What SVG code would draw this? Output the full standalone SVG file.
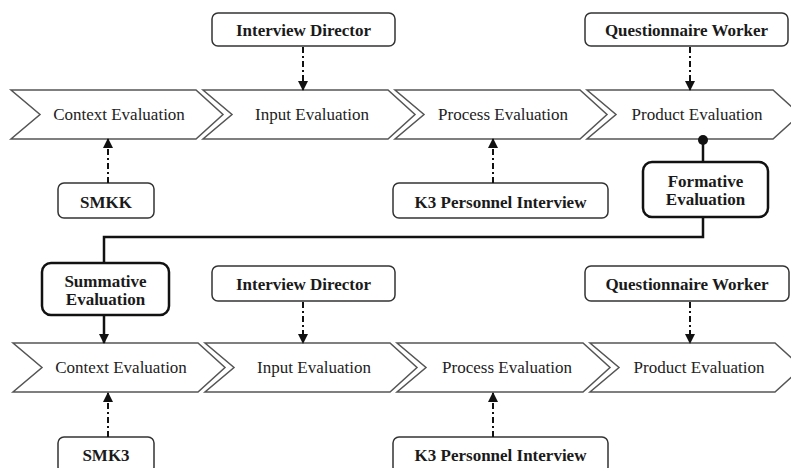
<svg xmlns="http://www.w3.org/2000/svg" width="791" height="468" viewBox="0 0 791 468">
<defs>
<style>
.chev{fill:#fff;stroke:#555;stroke-width:1.5;stroke-linejoin:miter}
.box{fill:#fff;stroke:#333;stroke-width:1.5}
.bbox{fill:#fff;stroke:#111;stroke-width:2.5}
.ct{font-family:"Liberation Serif",serif;font-size:17px;fill:#222;text-anchor:middle}
.bt{font-family:"Liberation Serif",serif;font-size:17px;font-weight:bold;fill:#1a1a1a;text-anchor:middle}
.dash{stroke:#111;stroke-width:2;fill:none;stroke-dasharray:6 3 2 3}
.solid{stroke:#111;stroke-width:2.5;fill:none}
</style>
<marker id="ah" markerWidth="10" markerHeight="10" refX="9" refY="5" orient="auto" markerUnits="userSpaceOnUse">
<path d="M0,0 L10,5 L0,10 Z" fill="#111"/>
</marker>
</defs>
<rect width="791" height="468" fill="#fff"/>

<g id="row1-context"><polygon class="chev" points="11,90 196,90 223,114.5 196,139 11,139 40,114.5"/><text class="ct" x="119" y="120">Context Evaluation</text></g>
<g id="row1-input"><polygon class="chev" points="203,90 388,90 415,114.5 388,139 203,139 232,114.5"/><text class="ct" x="312" y="120">Input Evaluation</text></g>
<g id="row1-process"><polygon class="chev" points="395,90 580,90 607,114.5 580,139 395,139 424,114.5"/><text class="ct" x="503" y="120">Process Evaluation</text></g>
<g id="row1-product"><polygon class="chev" points="587,90 773,90 800,114.5 773,139 587,139 616,114.5"/><text class="ct" x="697" y="120">Product Evaluation</text></g>

<g id="row1-director"><rect class="box" x="212" y="13" width="183" height="33" rx="6"/><text class="bt" x="303.5" y="36">Interview Director</text></g>
<g id="row1-questionnaire"><rect class="box" x="585" y="13" width="203" height="33" rx="6"/><text class="bt" x="686.5" y="36">Questionnaire Worker</text></g>
<g id="row1-smkk"><rect class="box" x="58" y="183" width="96" height="35" rx="6"/><text class="bt" x="106" y="207.5">SMKK</text></g>
<g id="row1-k3"><rect class="box" x="393" y="183" width="215" height="35" rx="6"/><text class="bt" x="500.5" y="207.5">K3 Personnel Interview</text></g>
<g id="formative"><rect class="bbox" x="643" y="162" width="125" height="55" rx="9"/><text class="bt" x="705.5" y="187">Formative</text><text class="bt" x="705.5" y="205">Evaluation</text></g>

<g id="summative"><rect class="bbox" x="42" y="263" width="127" height="52" rx="9"/><text class="bt" x="105.5" y="287">Summative</text><text class="bt" x="105.5" y="305">Evaluation</text></g>

<g id="row2-context"><polygon class="chev" points="13,343 198,343 225,367.5 198,392 13,392 42,367.5"/><text class="ct" x="121" y="373">Context Evaluation</text></g>
<g id="row2-input"><polygon class="chev" points="205,343 390,343 417,367.5 390,392 205,392 234,367.5"/><text class="ct" x="314" y="373">Input Evaluation</text></g>
<g id="row2-process"><polygon class="chev" points="397,343 583,343 610,367.5 583,392 397,392 426,367.5"/><text class="ct" x="507" y="373">Process Evaluation</text></g>
<g id="row2-product"><polygon class="chev" points="590,343 775,343 802,367.5 775,392 590,392 619,367.5"/><text class="ct" x="699" y="373">Product Evaluation</text></g>

<g id="row2-director"><rect class="box" x="212" y="266" width="183" height="35" rx="6"/><text class="bt" x="303.5" y="290">Interview Director</text></g>
<g id="row2-questionnaire"><rect class="box" x="585" y="266" width="204" height="35" rx="6"/><text class="bt" x="687" y="290">Questionnaire Worker</text></g>
<g id="row2-smk3"><rect class="box" x="58" y="437" width="96" height="36" rx="6"/><text class="bt" x="106" y="461">SMK3</text></g>
<g id="row2-k3"><rect class="box" x="393" y="437" width="215" height="36" rx="6"/><text class="bt" x="500.5" y="461">K3 Personnel Interview</text></g>

<g id="connectors">
<line class="dash" x1="303" y1="47" x2="303" y2="90" marker-end="url(#ah)"/>
<line class="dash" x1="690" y1="47" x2="690" y2="90" marker-end="url(#ah)"/>
<line class="dash" x1="108" y1="183" x2="108" y2="139" marker-end="url(#ah)"/>
<line class="dash" x1="493" y1="183" x2="493" y2="139" marker-end="url(#ah)"/>
<circle cx="703" cy="140" r="5" fill="#111"/>
<line class="solid" x1="703" y1="140" x2="703" y2="162"/>
<polyline class="solid" points="703,217 703,237 104,237 104,263"/>
<line class="solid" x1="104" y1="315" x2="104" y2="343" marker-end="url(#ah)"/>
<line class="dash" x1="303" y1="302" x2="303" y2="343" marker-end="url(#ah)"/>
<line class="dash" x1="690" y1="302" x2="690" y2="343" marker-end="url(#ah)"/>
<line class="dash" x1="108" y1="437" x2="108" y2="393" marker-end="url(#ah)"/>
<line class="dash" x1="493" y1="437" x2="493" y2="393" marker-end="url(#ah)"/>
</g>
</svg>
